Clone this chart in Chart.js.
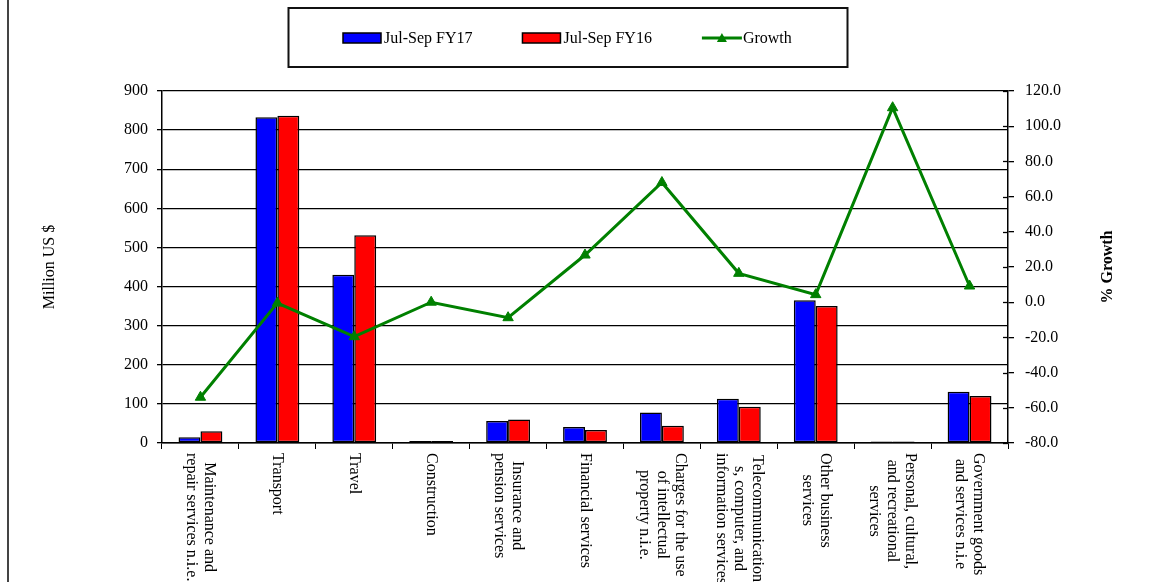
<!DOCTYPE html>
<html>
<head>
<meta charset="utf-8">
<script src="https://cdn.jsdelivr.net/npm/chart.js@4.4.0/dist/chart.umd.min.js"></script>
<style>
    html, body { margin: 0; padding: 0; background: #fff; }
    #wrap { width: 1150px; height: 582px; position: relative; }
</style>
</head>
<body>
<div id="wrap"><canvas id="myChart"></canvas></div>
<script>
// categories, one array per label line (as wrapped in the original)
const categories = [
    ['Maintenance and', 'repair services n.i.e.'],
    ['Transport'],
    ['Travel'],
    ['Construction'],
    ['Insurance and', 'pension services'],
    ['Financial services'],
    ['Charges for the use', 'of intellectual', 'property n.i.e.'],
    ['Telecommunication', 's, computer, and', 'information services'],
    ['Other business', 'services'],
    ['Personal, cultural,', 'and recreational', 'services'],
    ['Government goods', 'and services n.i.e']
];
const fy17 = [15, 833, 430, 5, 56, 41, 78, 113, 365, 4, 131];
const fy16 = [30, 837, 531, 5, 60, 33, 44, 93, 350, 4, 120];
const growth = [-54, -0.5, -19.6, 0, -8.8, 26.8, 68, 16.4, 4.3, 110.5, 9.2];
const seriesNames = ['Jul-Sep FY17', 'Jul-Sep FY16', 'Growth'];

const serif = 'Liberation Serif, Times New Roman, serif';
Chart.defaults.font.family = serif;
Chart.defaults.font.size = 16;
Chart.defaults.color = '#000';

// legend box, category labels turned clockwise, right axis title, outer frame line
const extras = {
    id: 'extras',
    afterDraw(chart) {
        const ctx = chart.ctx;
        const x = chart.scales.x;
        const yR = chart.scales.y1;
        const area = chart.chartArea;
        ctx.save();

        // left frame line
        ctx.strokeStyle = '#444';
        ctx.lineWidth = 2;
        ctx.beginPath();
        ctx.moveTo(8, 0);
        ctx.lineTo(8, chart.height);
        ctx.stroke();

        // legend
        ctx.strokeStyle = '#111';
        ctx.lineWidth = 2;
        ctx.strokeRect(288.5, 8, 559, 59);
        ctx.font = '16px ' + serif;
        ctx.textBaseline = 'middle';
        ctx.textAlign = 'left';
        let lx = 343;
        const ly = 38;
        chart.data.datasets.forEach(ds => {
            if (ds.type === 'line') {
                ctx.strokeStyle = ds.borderColor;
                ctx.lineWidth = 3;
                ctx.beginPath();
                ctx.moveTo(lx, ly);
                ctx.lineTo(lx + 40, ly);
                ctx.stroke();
                ctx.fillStyle = ds.borderColor;
                ctx.beginPath();
                ctx.moveTo(lx + 20, ly - 5);
                ctx.lineTo(lx + 25, ly + 4);
                ctx.lineTo(lx + 15, ly + 4);
                ctx.closePath();
                ctx.fill();
            } else {
                ctx.fillStyle = ds.backgroundColor;
                ctx.fillRect(lx, ly - 5, 38, 10);
                ctx.strokeStyle = '#000';
                ctx.lineWidth = 1.5;
                ctx.strokeRect(lx, ly - 5, 38, 10);
            }
            ctx.fillStyle = '#000';
            ctx.fillText(ds.label, lx + 41, ly + 1);
            lx += 41 + ctx.measureText(ds.label).width + 50;
        });

        // category labels, reading top to bottom
        ctx.font = '16px ' + serif;
        ctx.fillStyle = '#000';
        ctx.textAlign = 'center';
        ctx.textBaseline = 'middle';
        categories.forEach((lines, i) => {
            const cx = x.getPixelForTick(i);
            let w = 0;
            lines.forEach(l => { w = Math.max(w, ctx.measureText(l).width); });
            ctx.save();
            ctx.translate(cx, area.bottom + 10);
            ctx.rotate(Math.PI / 2);
            lines.forEach((l, k) => {
                ctx.fillText(l, w / 2, (k - (lines.length - 1) / 2) * 18);
            });
            ctx.restore();
        });

        // right axis title, reading bottom to top
        ctx.save();
        ctx.font = 'bold 16px ' + serif;
        ctx.translate(yR.right - 42, (area.top + area.bottom) / 2);
        ctx.rotate(-Math.PI / 2);
        ctx.textAlign = 'center';
        ctx.fillText('% Growth', 0, 0);
        ctx.restore();

        // right axis tick marks cross the axis line
        ctx.strokeStyle = '#000';
        ctx.lineWidth = 1.3;
        yR.ticks.forEach(t => {
            const py = Math.round(yR.getPixelForValue(t.value)) + 0.5;
            ctx.beginPath();
            ctx.moveTo(yR.left - 5, py);
            ctx.lineTo(yR.left, py);
            ctx.stroke();
        });

        ctx.restore();
    }
};

const ctx = document.getElementById('myChart');

new Chart(ctx, {
    data: {
        labels: categories,
        datasets: [
            {
                type: 'bar',
                label: seriesNames[0],
                data: fy17,
                backgroundColor: '#0000FF',
                borderColor: '#000',
                borderWidth: 1.5,
                borderSkipped: false,
                categoryPercentage: 0.57,
                barPercentage: 1.0,
                yAxisID: 'y',
                order: 1
            },
            {
                type: 'bar',
                label: seriesNames[1],
                data: fy16,
                backgroundColor: '#FF0000',
                borderColor: '#000',
                borderWidth: 1.5,
                borderSkipped: false,
                categoryPercentage: 0.57,
                barPercentage: 1.0,
                yAxisID: 'y',
                order: 1
            },
            {
                type: 'line',
                label: seriesNames[2],
                data: growth,
                borderColor: '#008000',
                backgroundColor: '#008000',
                borderWidth: 3,
                pointStyle: 'triangle',
                pointRadius: 6,
                pointBackgroundColor: '#008000',
                pointBorderColor: '#008000',
                pointBorderWidth: 1,
                tension: 0,
                yAxisID: 'y1',
                order: 0
            }
        ]
    },
    options: {
        responsive: true,
        maintainAspectRatio: false,
        animation: false,
        events: [],
        layout: {
            padding: { top: 91, left: 0, right: 0, bottom: 0 }
        },
        scales: {
            x: {
                offset: true,
                ticks: { display: false },
                grid: {
                    offset: true,
                    drawOnChartArea: false,
                    drawTicks: true,
                    tickLength: 6,
                    color: '#000',
                    lineWidth: 1
                },
                border: { display: true, color: '#000', width: 1.5 },
                afterFit(scale) { scale.height = 139; }
            },
            y: {
                position: 'left',
                min: 0,
                max: 900,
                ticks: {
                    stepSize: 100,
                    padding: 9,
                    font: { size: 16 },
                    color: '#000'
                },
                grid: {
                    color: '#000',
                    lineWidth: 1.3,
                    tickLength: 5
                },
                border: { display: true, color: '#000', width: 1.5 },
                title: {
                    display: true,
                    text: 'Million US $',
                    font: { size: 16 },
                    color: '#000',
                    padding: { top: 40, bottom: 0 }
                },
                afterFit(scale) { scale.width = 162; }
            },
            y1: {
                position: 'right',
                min: -80,
                max: 120,
                ticks: {
                    stepSize: 20,
                    padding: 11,
                    font: { size: 16 },
                    color: '#000',
                    callback: v => v.toFixed(1)
                },
                grid: {
                    drawOnChartArea: false,
                    color: '#000',
                    lineWidth: 1.3,
                    tickLength: 6
                },
                border: { display: true, color: '#000', width: 1.5 },
                afterFit(scale) { scale.width = 142; }
            }
        },
        plugins: {
            legend: { display: false },
            tooltip: { enabled: false }
        }
    },
    plugins: [extras]
});
</script>
</body>
</html>
